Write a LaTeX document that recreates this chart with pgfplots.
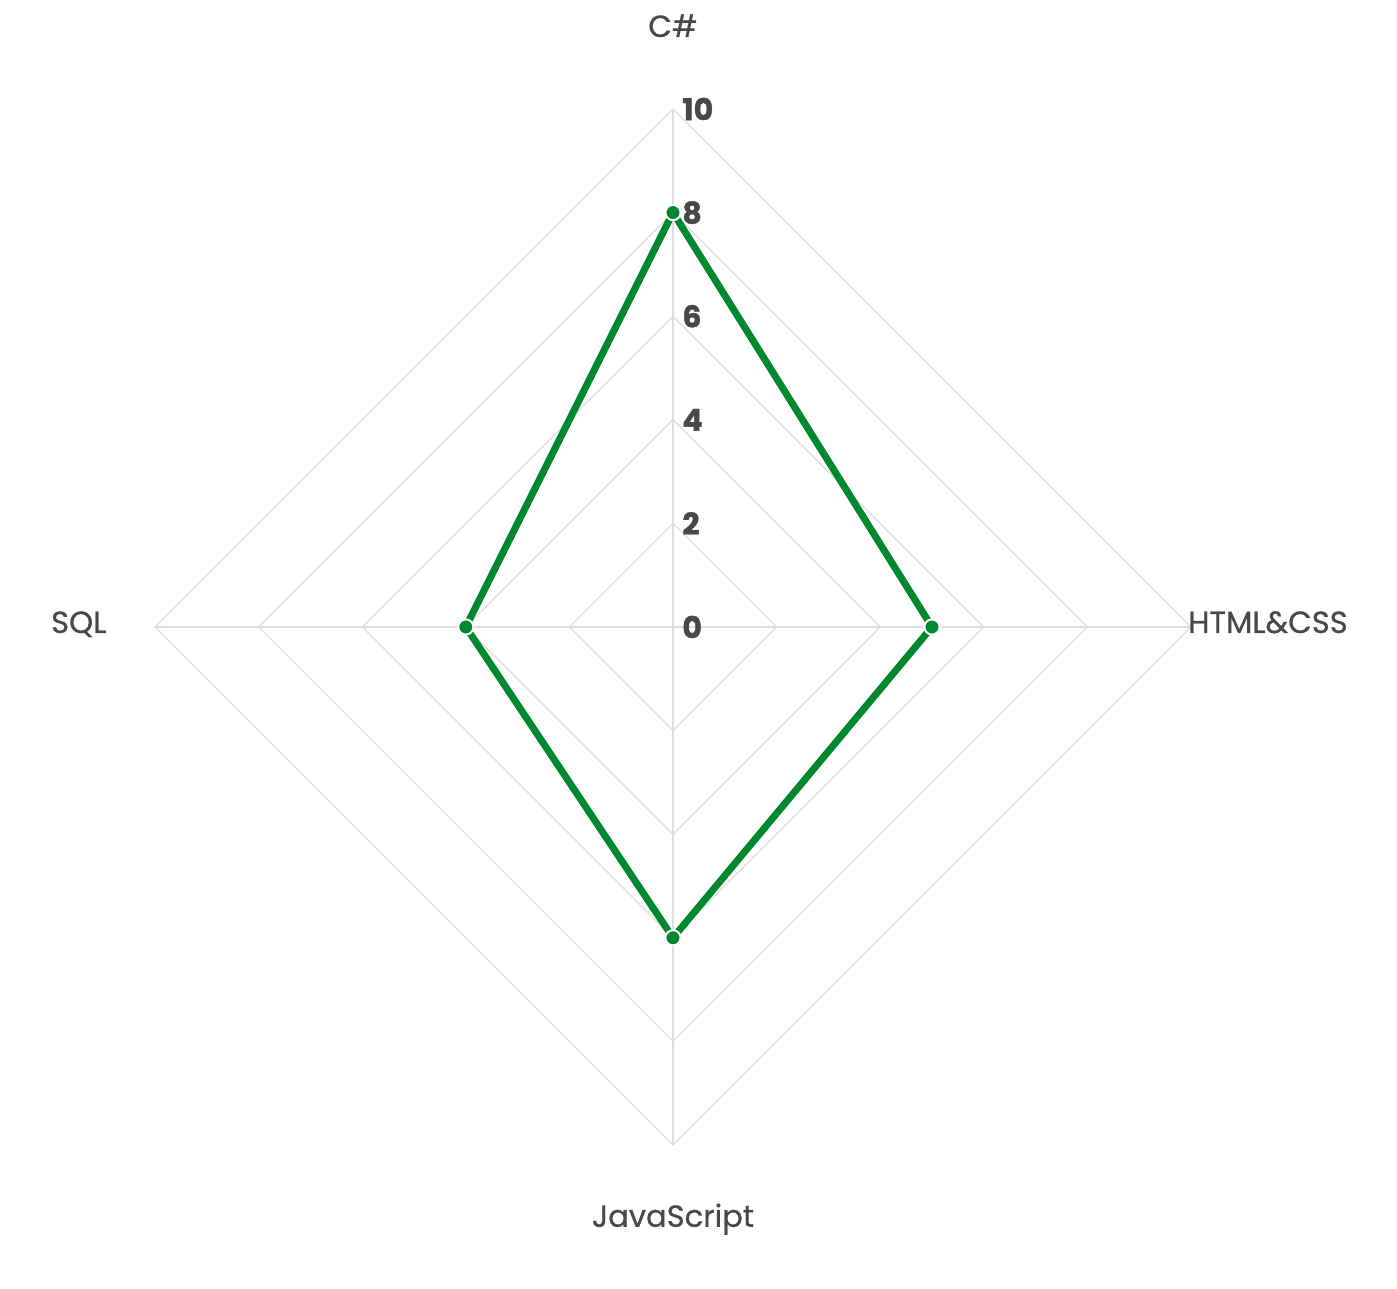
\documentclass[border=0pt]{standalone}
\usepackage{pgfplots}
\pgfplotsset{compat=1.18}
\usepackage{fontspec}
\setmainfont{Poppins}
\newfontfamily\labfont{Poppins}[FakeBold=0.6]
\newfontfamily\tickfont{Poppins}[FakeBold=1.4]
\definecolor{lineg}{RGB}{0,136,46}
\definecolor{gridc}{RGB}{222,222,222}
\definecolor{txt}{RGB}{72,72,72}
\begin{document}
\begin{tikzpicture}
\begin{axis}[
  scale only axis,
  width=698.5pt, height=644.5pt,
  xmin=-12.992, xmax=13.977, ymin=-12.780, ymax=12.104,
  hide axis,
  clip=false,
]
% grid diamonds
\foreach \r in {2,4,6,8,10}{
  \edef\tmp{\noexpand\addplot[gridc, line width=0.6pt, forget plot] coordinates {(0,\r) (\r,0) (0,-\r) (-\r,0) (0,\r)};}
  \tmp
}
% spokes
\addplot[gridc, line width=0.6pt, forget plot] coordinates {(0,0) (0,10)};
\addplot[gridc, line width=0.6pt, forget plot] coordinates {(0,0) (10,0)};
\addplot[gridc, line width=0.6pt, forget plot] coordinates {(0,0) (0,-10)};
\addplot[gridc, line width=0.6pt, forget plot] coordinates {(0,0) (-10,0)};
% data: C#=8, HTML&CSS=5, JavaScript=6, SQL=4
\addplot[lineg, line width=3.5pt, line join=round, mark=none] coordinates {(0,8) (5,0) (0,-6) (-4,0) (0,8)};
\addplot[only marks, mark=*, mark size=3.8pt, mark options={fill=lineg, draw=white, line width=1pt}] coordinates {(0,8) (5,0) (0,-6) (-4,0)};
% tick labels
\foreach \r in {0,2,4,6,8,10}{
  \edef\tmp{\noexpand\node[anchor=west, inner sep=0pt, xshift=4.5pt, text=txt, font=\noexpand\fontsize{15}{18}\noexpand\tickfont\noexpand\bfseries] at (axis cs:0,\r) {\r};}
  \tmp
}
% category labels
\node[anchor=base, inner sep=0pt, text=txt, font=\fontsize{15.3}{18}\labfont] at (axis cs:0,11.39) {C\#};
\node[anchor=base west, inner sep=0pt, text=txt, font=\fontsize{15.3}{18}\labfont] at (axis cs:9.94,-0.116) {HTML\&CSS};
\node[anchor=base east, inner sep=0pt, text=txt, font=\fontsize{15.3}{18}\labfont] at (axis cs:-10.93,-0.116) {SQL};
\node[anchor=base, inner sep=0pt, text=txt, font=\fontsize{15.3}{18}\labfont] at (axis cs:0,-11.58) {JavaScript};
\draw[draw=none] (rel axis cs:0,0) rectangle (rel axis cs:1,1);
\end{axis}
\end{tikzpicture}
\end{document}
